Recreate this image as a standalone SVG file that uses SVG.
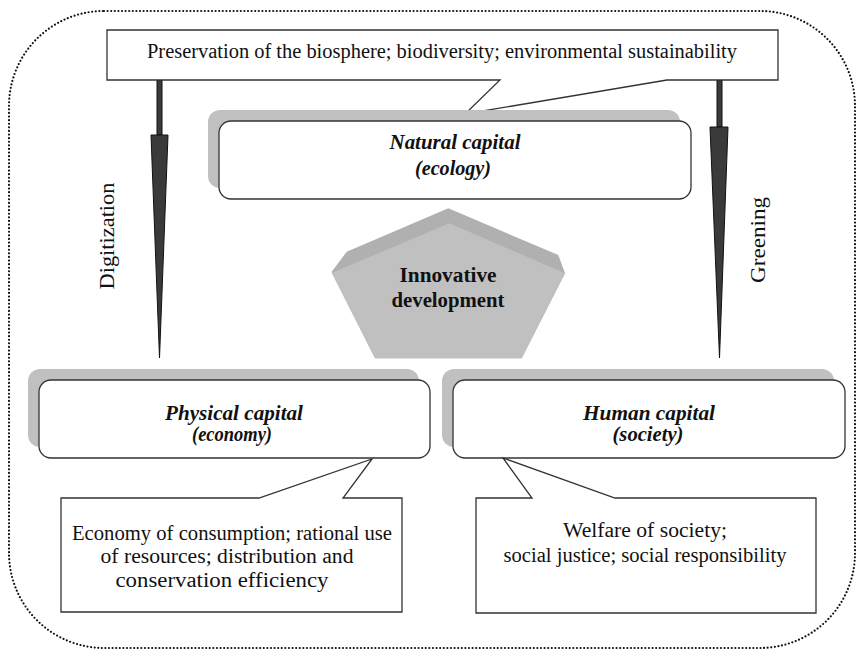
<svg xmlns="http://www.w3.org/2000/svg" width="857" height="653" viewBox="0 0 857 653">
<style>
  text { font-family: "Liberation Serif", "DejaVu Serif", "Times New Roman", Times, serif; font-size: 20px; fill: #111; text-anchor: middle; }
  .bi { font-weight: bold; font-style: italic; }
  .b { font-weight: bold; }
  .box { fill: #fff; stroke: #333; stroke-width: 1.3; }
  .shadow { fill: #c0c0c0; stroke: none; }
  .call { fill: #fff; stroke: #333; stroke-width: 1.3; stroke-linejoin: miter; }
  .arrow { fill: #3a3a3a; stroke: #111; stroke-width: 1; }
</style>
<rect id="frame" x="9" y="11" width="846" height="637" rx="95" ry="95" fill="none" stroke="#111" stroke-width="2.2" stroke-dasharray="0 3.6" stroke-linecap="round"/>

<g id="connectors">
  <rect class="arrow" x="157" y="80" width="5" height="55"/>
  <polygon class="arrow" points="151,135 168,135 159.5,358"/>
  <rect class="arrow" x="717" y="80" width="5" height="47"/>
  <polygon class="arrow" points="710,127 728,127 719.5,358"/>
  <text font-family="Liberation Serif, serif" x="113.5" y="236" transform="rotate(-90 113.5 236)" textLength="107" lengthAdjust="spacingAndGlyphs">Digitization</text>
  <text font-family="Liberation Serif, serif" x="765" y="240" transform="rotate(-90 765 240)" style="font-size:22px" textLength="86" lengthAdjust="spacingAndGlyphs">Greening</text>
</g>

<g id="biosphere">
  <polygon class="call" points="107,30 778,30 778,80 667,80 465,114 500,80 107,80"/>
  <text x="442" y="58" textLength="590" lengthAdjust="spacingAndGlyphs">Preservation of the biosphere; biodiversity; environmental sustainability</text>
</g>

<g id="natural">
  <rect class="shadow" x="208" y="110" width="472" height="78" rx="12"/>
  <rect class="box" x="219" y="121" width="472" height="78" rx="12"/>
  <text class="bi" x="455" y="149" textLength="131" lengthAdjust="spacingAndGlyphs">Natural capital</text>
  <text class="bi" x="453" y="175" textLength="76" lengthAdjust="spacingAndGlyphs">(ecology)</text>
</g>

<g id="innovative">
  <polygon points="331.7,271.7 346.7,251.7 448.3,208.3 558.3,255 565,273.3 521.7,358.3 375,358.3" fill="#b0b0b0"/>
  <polygon points="331.7,273 449.3,223.3 565,273.3 521.7,358.3 375,358.3" fill="#c0c0c0"/>
  <text class="b" x="448" y="282" textLength="97" lengthAdjust="spacingAndGlyphs">Innovative</text>
  <text class="b" x="448" y="307" textLength="113" lengthAdjust="spacingAndGlyphs">development</text>
</g>

<g id="physical">
  <rect class="shadow" x="28" y="369" width="391" height="78" rx="12"/>
  <rect class="box" x="39" y="380" width="391" height="78" rx="12"/>
  <text class="bi" x="234" y="420" textLength="138" lengthAdjust="spacingAndGlyphs">Physical capital</text>
  <text class="bi" x="232" y="441" textLength="80" lengthAdjust="spacingAndGlyphs">(economy)</text>
</g>

<g id="human">
  <rect class="shadow" x="442" y="369" width="392" height="78" rx="12"/>
  <rect class="box" x="453" y="380" width="392" height="78" rx="12"/>
  <text class="bi" x="649" y="420" textLength="132" lengthAdjust="spacingAndGlyphs">Human capital</text>
  <text class="bi" x="648" y="441" textLength="71" lengthAdjust="spacingAndGlyphs">(society)</text>
</g>

<g id="economy-note">
  <polygon class="call" points="61,498 259,498 372,459 343,498 402,498 402,612 61,612"/>
  <text x="232" y="540" textLength="320" lengthAdjust="spacingAndGlyphs">Economy of consumption; rational use</text>
  <text x="227" y="563" textLength="253" lengthAdjust="spacingAndGlyphs">of resources; distribution and</text>
  <text x="222" y="587" textLength="213" lengthAdjust="spacingAndGlyphs">conservation efficiency</text>
</g>

<g id="society-note">
  <polygon class="call" points="476,498 532,498 503,458 615,498 816,498 816,613 476,613"/>
  <text x="645" y="537" textLength="164" lengthAdjust="spacingAndGlyphs">Welfare of society;</text>
  <text x="645" y="562" textLength="283" lengthAdjust="spacingAndGlyphs">social justice; social responsibility</text>
</g>
</svg>
